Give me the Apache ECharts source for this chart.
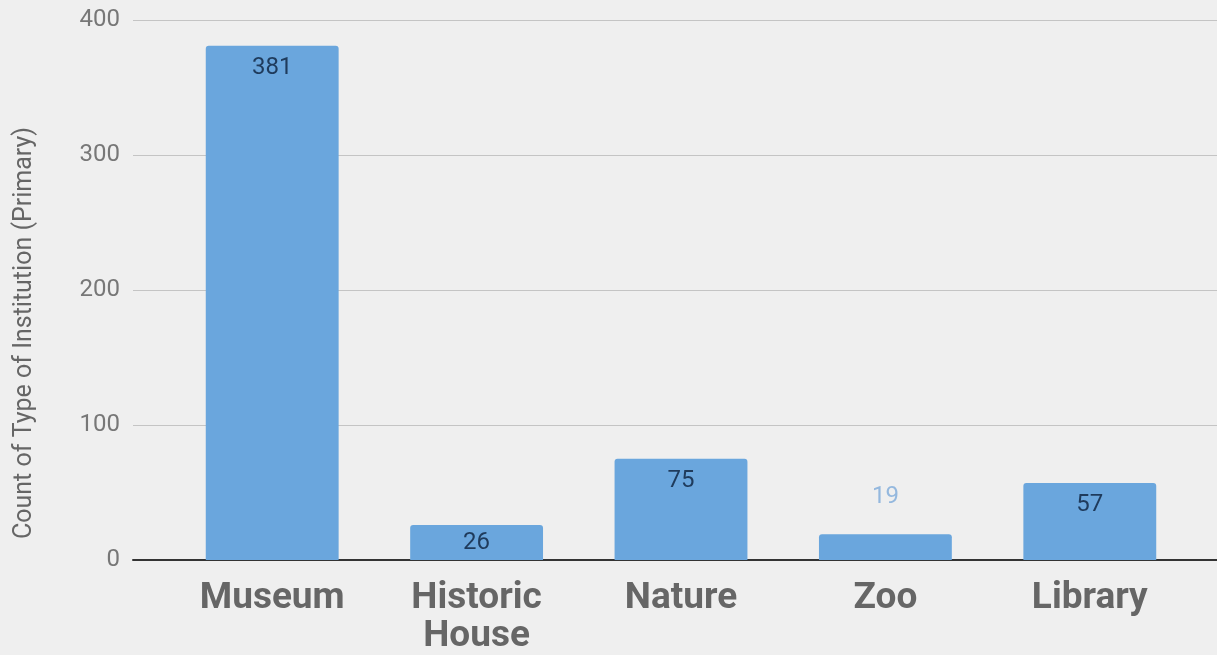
<!DOCTYPE html>
<html>
<head>
<meta charset="utf-8">
<script src="https://cdn.jsdelivr.net/npm/echarts@6/dist/echarts.min.js"></script>
<style>
html,body{margin:0;padding:0;background:#efefef;}
#c{width:1217px;height:655px;}
</style>
</head>
<body>
<div id="c"></div>
<script>
const categories = ['Museum', 'Historic\nHouse', 'Nature', 'Zoo', 'Library'];
const counts = [381, 26, 75, 19, 57];
const yTicks = [0, 100, 200, 300, 400];
const yName = 'Count of Type of Institution (Primary)';

const chart = echarts.init(document.getElementById('c'));
const font = 'Roboto, sans-serif';
const barData = counts.map((v) => {
  const item = { value: v };
  if (v < 22) {
    item.label = { position: 'top', distance: 25, color: '#94b8de' };
  } else if (v < 30) {
    item.label = { position: 'insideTop', distance: 6 };
  }
  return item;
});
chart.setOption({
  backgroundColor: '#efefef',
  animation: false,
  grid: [
    { left: 133, right: 0, top: 20, bottom: 95, containLabel: false, outerBoundsMode: 'none' },
    { left: 170, right: 25, top: 20, bottom: 95, containLabel: false, outerBoundsMode: 'none' }
  ],
  graphic: [{
    type: 'text',
    x: 25, y: 333, rotation: Math.PI / 2,
    style: { text: yName, font: '25px Roboto, sans-serif', fill: '#666', textAlign: 'center', textVerticalAlign: 'middle' }
  }],
  xAxis: [
    { type: 'value', gridIndex: 0, min: 0, max: 1, show: true,
      axisLine: { show: true, onZero: false, lineStyle: { color: '#333', width: 2 } },
      axisTick: { show: false }, axisLabel: { show: false }, splitLine: { show: false } },
    { type: 'category', gridIndex: 1, data: categories,
      axisLine: { show: false }, axisTick: { show: false },
      axisLabel: { fontFamily: font, fontSize: 37, fontWeight: 'bold', color: '#666', lineHeight: 38, margin: 20 } }
  ],
  yAxis: [
    { type: 'value', gridIndex: 0, min: yTicks[0], max: yTicks[yTicks.length - 1], interval: 100,
      axisLine: { show: false }, axisTick: { show: false },
      axisLabel: { fontFamily: font, fontSize: 24, color: '#777', margin: 13 },
      splitLine: { lineStyle: { color: '#c4c4c4', width: 1 } } },
    { type: 'value', gridIndex: 1, min: 0, max: 400, show: false, splitLine: { show: false } }
  ],
  series: [{
    type: 'bar', xAxisIndex: 1, yAxisIndex: 1, data: barData, barWidth: '65%',
    itemStyle: { color: '#6aa6dd', borderRadius: [3, 3, 0, 0] },
    label: { show: true, position: 'insideTop', distance: 10, fontFamily: font, fontSize: 24, color: '#1f3b5c' },
    z: 1
  }]
});
</script>
</body>
</html>
